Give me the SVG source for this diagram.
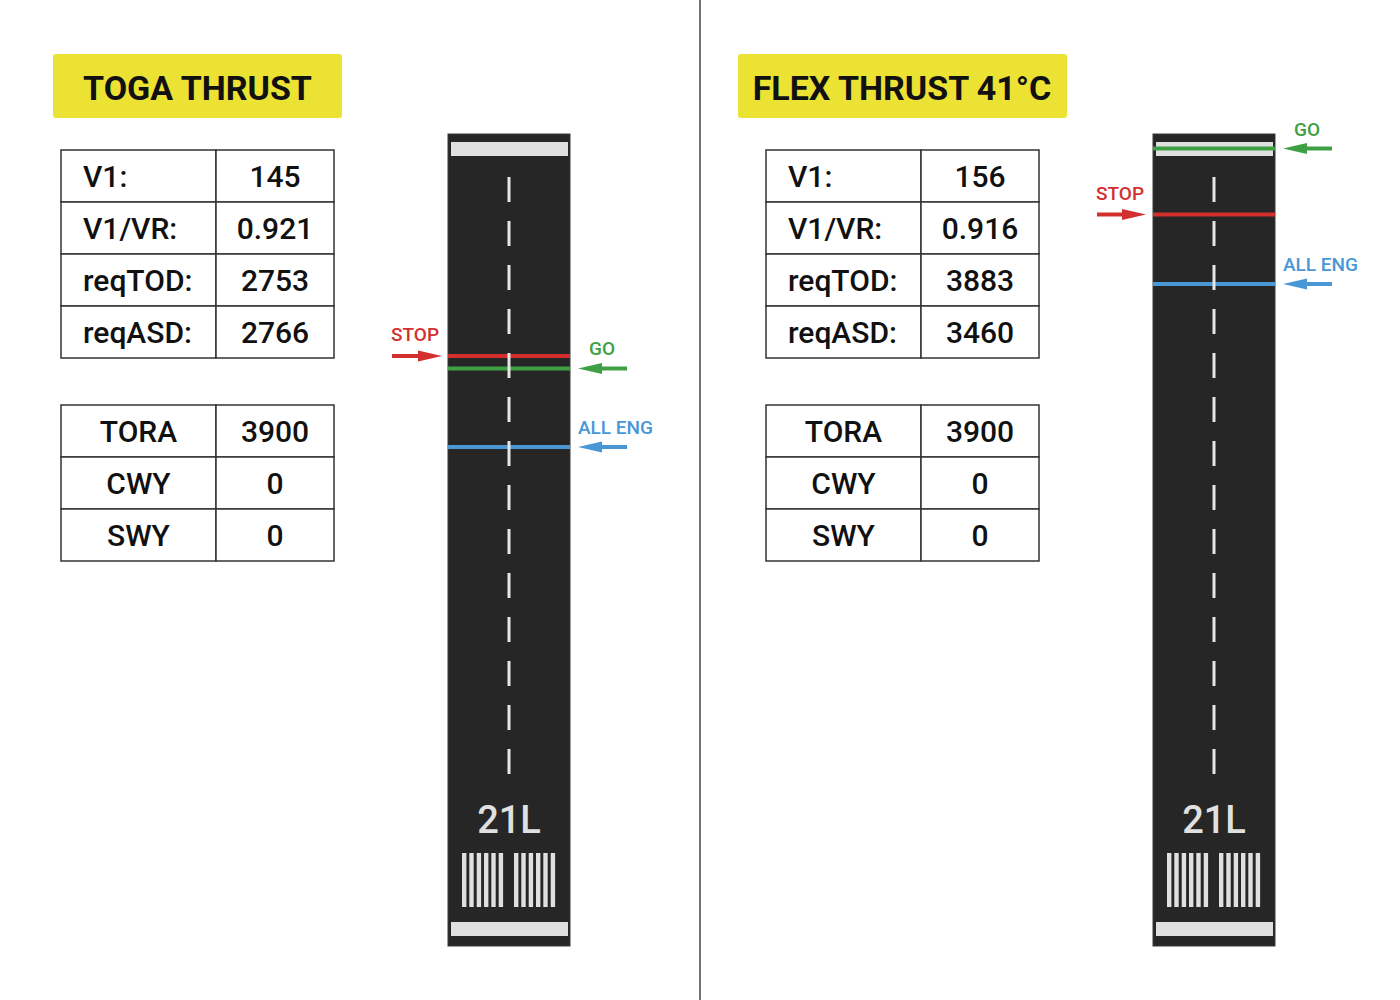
<svg xmlns="http://www.w3.org/2000/svg" width="1400" height="1000" viewBox="0 0 1400 1000">
<style>
.title{font-family:Roboto,"Liberation Sans",sans-serif;font-weight:bold;font-size:34px;fill:#111;text-anchor:middle}
.cell{fill:#fff;stroke:#333;stroke-width:1.5}
.t{font-family:Roboto,"Liberation Sans",sans-serif;font-weight:500;font-size:30px;fill:#111}
.c{text-anchor:middle}
.rwy{fill:#262626;stroke:#3a3a3a;stroke-width:1}
.bar{fill:#e0e0e0}
.cl{stroke:#e6e6e6;stroke-width:3;stroke-dasharray:25 19}
.rno{font-family:Roboto,"Liberation Sans",sans-serif;font-weight:500;font-size:38px;fill:#e0e0e0;text-anchor:middle}
.lbl{font-family:Roboto,"Liberation Sans",sans-serif;font-weight:500;font-size:19px}
.red{stroke:#d32f2f;stroke-width:4}
.grn{stroke:#3f9f44;stroke-width:4}
.blu{stroke:#4a97d6;stroke-width:4}
</style>
<defs>
<marker id="hr" markerUnits="userSpaceOnUse" markerWidth="24" markerHeight="12" refX="0" refY="6" orient="auto"><path d="M0,0.5 L24,6 L0,11.5 z" fill="#d32f2f"/></marker>
<marker id="hg" markerUnits="userSpaceOnUse" markerWidth="24" markerHeight="12" refX="0" refY="6" orient="auto"><path d="M0,0.5 L24,6 L0,11.5 z" fill="#3f9f44"/></marker>
<marker id="hb" markerUnits="userSpaceOnUse" markerWidth="24" markerHeight="12" refX="0" refY="6" orient="auto"><path d="M0,0.5 L24,6 L0,11.5 z" fill="#4a97d6"/></marker>
<g id="keys">
<rect x="462" y="853" width="4.4" height="54" class="bar"/>
<rect x="469.3" y="853" width="4.4" height="54" class="bar"/>
<rect x="476.7" y="853" width="4.4" height="54" class="bar"/>
<rect x="484" y="853" width="4.4" height="54" class="bar"/>
<rect x="491.3" y="853" width="4.4" height="54" class="bar"/>
<rect x="498.7" y="853" width="4.4" height="54" class="bar"/>
<rect x="514" y="853" width="4.4" height="54" class="bar"/>
<rect x="521.3" y="853" width="4.4" height="54" class="bar"/>
<rect x="528.7" y="853" width="4.4" height="54" class="bar"/>
<rect x="536" y="853" width="4.4" height="54" class="bar"/>
<rect x="543.3" y="853" width="4.4" height="54" class="bar"/>
<rect x="550.7" y="853" width="4.4" height="54" class="bar"/>
</g>
</defs>
<rect width="1400" height="1000" fill="#fff"/>
<line x1="700" y1="0" x2="700" y2="1000" stroke="#444" stroke-width="1.5"/>

<g id="toga-title">
<rect x="53" y="54" width="289" height="64" rx="3" fill="#ebe234"/>
<text x="197.5" y="100" class="title">TOGA THRUST</text>
</g>
<g id="toga-table1">
<rect x="61" y="150" width="155" height="52" class="cell"/><rect x="216" y="150" width="118" height="52" class="cell"/>
<rect x="61" y="202" width="155" height="52" class="cell"/><rect x="216" y="202" width="118" height="52" class="cell"/>
<rect x="61" y="254" width="155" height="52" class="cell"/><rect x="216" y="254" width="118" height="52" class="cell"/>
<rect x="61" y="306" width="155" height="52" class="cell"/><rect x="216" y="306" width="118" height="52" class="cell"/>
<text x="83" y="186.5" class="t">V1:</text><text x="275" y="186.5" class="t c">145</text>
<text x="83" y="238.5" class="t">V1/VR:</text><text x="275" y="238.5" class="t c">0.921</text>
<text x="83" y="290.5" class="t">reqTOD:</text><text x="275" y="290.5" class="t c">2753</text>
<text x="83" y="342.5" class="t">reqASD:</text><text x="275" y="342.5" class="t c">2766</text>
</g>
<g id="toga-table2">
<rect x="61" y="405" width="155" height="52" class="cell"/><rect x="216" y="405" width="118" height="52" class="cell"/>
<rect x="61" y="457" width="155" height="52" class="cell"/><rect x="216" y="457" width="118" height="52" class="cell"/>
<rect x="61" y="509" width="155" height="52" class="cell"/><rect x="216" y="509" width="118" height="52" class="cell"/>
<text x="138.5" y="441.5" class="t c">TORA</text><text x="275" y="441.5" class="t c">3900</text>
<text x="138.5" y="493.5" class="t c">CWY</text><text x="275" y="493.5" class="t c">0</text>
<text x="138.5" y="545.5" class="t c">SWY</text><text x="275" y="545.5" class="t c">0</text>
</g>
<g id="toga-runway">
<rect x="448" y="134" width="122" height="812" class="rwy"/>
<rect x="451" y="142" width="117" height="14" class="bar"/>
<rect x="451" y="922" width="117" height="14" class="bar"/>
<line x1="448" y1="356" x2="570" y2="356" class="red"/>
<line x1="448" y1="368.5" x2="570" y2="368.5" class="grn"/>
<line x1="448" y1="447" x2="570" y2="447" class="blu"/>
<line x1="509" y1="177" x2="509" y2="774" class="cl"/>
<text x="509" y="833" class="rno">21L</text>
<use href="#keys"/>
</g>
<g id="toga-markers">
<text x="391" y="341" class="lbl" fill="#d32f2f">STOP</text>
<line x1="392" y1="356" x2="418" y2="356" class="red" marker-end="url(#hr)"/>
<text x="589" y="355" class="lbl" fill="#3f9f44">GO</text>
<line x1="627" y1="368.5" x2="602" y2="368.5" class="grn" marker-end="url(#hg)"/>
<text x="578" y="434" class="lbl" fill="#4a97d6">ALL ENG</text>
<line x1="627" y1="447" x2="602" y2="447" class="blu" marker-end="url(#hb)"/>
</g>

<g id="flex-title">
<rect x="738" y="54" width="329" height="64" rx="3" fill="#ebe234"/>
<text x="902" y="100" class="title">FLEX THRUST 41°C</text>
</g>
<g id="flex-table1">
<rect x="766" y="150" width="155" height="52" class="cell"/><rect x="921" y="150" width="118" height="52" class="cell"/>
<rect x="766" y="202" width="155" height="52" class="cell"/><rect x="921" y="202" width="118" height="52" class="cell"/>
<rect x="766" y="254" width="155" height="52" class="cell"/><rect x="921" y="254" width="118" height="52" class="cell"/>
<rect x="766" y="306" width="155" height="52" class="cell"/><rect x="921" y="306" width="118" height="52" class="cell"/>
<text x="788" y="186.5" class="t">V1:</text><text x="980" y="186.5" class="t c">156</text>
<text x="788" y="238.5" class="t">V1/VR:</text><text x="980" y="238.5" class="t c">0.916</text>
<text x="788" y="290.5" class="t">reqTOD:</text><text x="980" y="290.5" class="t c">3883</text>
<text x="788" y="342.5" class="t">reqASD:</text><text x="980" y="342.5" class="t c">3460</text>
</g>
<g id="flex-table2">
<rect x="766" y="405" width="155" height="52" class="cell"/><rect x="921" y="405" width="118" height="52" class="cell"/>
<rect x="766" y="457" width="155" height="52" class="cell"/><rect x="921" y="457" width="118" height="52" class="cell"/>
<rect x="766" y="509" width="155" height="52" class="cell"/><rect x="921" y="509" width="118" height="52" class="cell"/>
<text x="843.5" y="441.5" class="t c">TORA</text><text x="980" y="441.5" class="t c">3900</text>
<text x="843.5" y="493.5" class="t c">CWY</text><text x="980" y="493.5" class="t c">0</text>
<text x="843.5" y="545.5" class="t c">SWY</text><text x="980" y="545.5" class="t c">0</text>
</g>
<g id="flex-runway">
<rect x="1153" y="134" width="122" height="812" class="rwy"/>
<rect x="1156" y="142" width="117" height="14" class="bar"/>
<rect x="1156" y="922" width="117" height="14" class="bar"/>
<line x1="1153" y1="148.5" x2="1275" y2="148.5" class="grn"/>
<line x1="1153" y1="214.5" x2="1275" y2="214.5" class="red"/>
<line x1="1153" y1="284" x2="1275" y2="284" class="blu"/>
<line x1="1214" y1="177" x2="1214" y2="774" class="cl"/>
<text x="1214" y="833" class="rno">21L</text>
<use href="#keys" transform="translate(705,0)"/>
</g>
<g id="flex-markers">
<text x="1294" y="136" class="lbl" fill="#3f9f44">GO</text>
<line x1="1332" y1="148.5" x2="1307" y2="148.5" class="grn" marker-end="url(#hg)"/>
<text x="1096" y="200" class="lbl" fill="#d32f2f">STOP</text>
<line x1="1097" y1="214.5" x2="1122" y2="214.5" class="red" marker-end="url(#hr)"/>
<text x="1283" y="271" class="lbl" fill="#4a97d6">ALL ENG</text>
<line x1="1332" y1="284" x2="1307" y2="284" class="blu" marker-end="url(#hb)"/>
</g>
</svg>
